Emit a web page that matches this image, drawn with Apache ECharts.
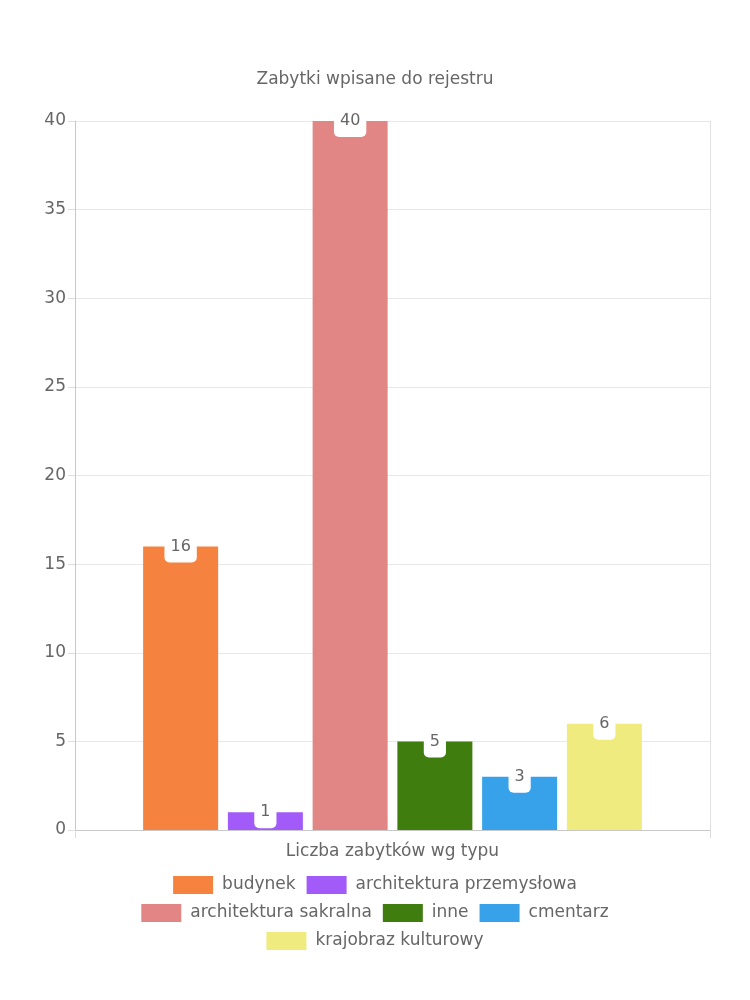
<!DOCTYPE html>
<html><head><meta charset="utf-8">
<script src="https://cdn.jsdelivr.net/npm/echarts@6/dist/echarts.min.js"></script>
<style>html,body{margin:0;padding:0;background:#fff}#c{width:750px;height:1000px}</style>
</head><body><div id="c"></div>
<script>
const titleText = 'Zabytki wpisane do rejestru';
const categories = ['Liczba zabytków wg typu'];
const seriesNames = ['budynek', 'architektura przemysłowa', 'architektura sakralna', 'inne', 'cmentarz', 'krajobraz kulturowy'];
const seriesValues = [16, 1, 40, 5, 3, 6];
const seriesColors = ['#F5833F', '#A25AF8', '#E28585', '#3E7D0E', '#37A2EA', '#F0EB7E'];
const legendRows = [[0, 1], [2, 3, 4], [5]];
const yTicks = {min: 0, max: 40, interval: 5};

const FONT = 'DejaVu Sans';
const chart = echarts.init(document.getElementById('c'), null, {renderer: 'canvas'});
const series = seriesNames.map((n, i) => ({
  name: n, type: 'bar', data: [seriesValues[i]],
  barWidth: 75, barGap: '13%',
  itemStyle: {color: seriesColors[i]},
  label: {
    show: true, position: ['50%', 0], align: 'center', verticalAlign: 'middle',
    color: '#666', fontSize: 16, fontFamily: FONT,
    backgroundColor: '#fff', borderRadius: 5, padding: [8, 6]
  }
}));
chart.setOption({
  animation: false,
  title: {text: titleText, left: 'center', top: 66, textStyle: {color: '#666', fontSize: 17, fontWeight: 'normal', fontFamily: FONT}},
  legend: legendRows.map((row, r) => ({
    data: row.map(i => seriesNames[i]), left: 'center', top: 871 + r * 28,
    itemWidth: 40, itemHeight: 18, itemGap: 11, icon: 'rect',
    textStyle: {color: '#666', fontSize: 17, fontFamily: FONT, padding: [0, 0, 0, 4]}
  })),
  grid: {left: 75, right: 40, top: 121, bottom: 170, containLabel: false},
  xAxis: {
    type: 'category', data: categories,
    axisLine: {show: true, lineStyle: {color: '#c8c8c8'}},
    axisTick: {show: true, length: 8, lineStyle: {color: '#ddd'}},
    splitLine: {show: true, lineStyle: {color: '#e0e0e0'}},
    axisLabel: {color: '#666', fontSize: 17, fontFamily: FONT, margin: 13}
  },
  yAxis: {
    type: 'value', min: yTicks.min, max: yTicks.max, interval: yTicks.interval,
    axisLine: {show: true, lineStyle: {color: '#c8c8c8'}},
    axisTick: {show: true, length: 7, lineStyle: {color: '#ddd'}},
    splitLine: {show: true, lineStyle: {color: '#e8e8e8'}},
    axisLabel: {color: '#666', fontSize: 17, fontFamily: FONT, margin: 9}
  },
  series: series
});
</script></body></html>
